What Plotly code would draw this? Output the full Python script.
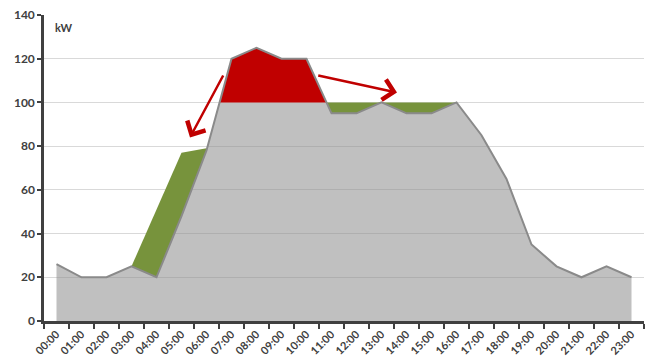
import numpy as np
import plotly.graph_objects as go

# ---------------- data ----------------
hours = ["00:00", "01:00", "02:00", "03:00", "04:00", "05:00", "06:00", "07:00",
         "08:00", "09:00", "10:00", "11:00", "12:00", "13:00", "14:00", "15:00",
         "16:00", "17:00", "18:00", "19:00", "20:00", "21:00", "22:00", "23:00"]
load_kw = [26, 20, 20, 25, 20, 48, 78, 120, 125, 120, 120, 95,
           95, 100, 95, 95, 100, 85, 65, 35, 25, 20, 25, 20]
cap_kw = 100                      # peak-shaving limit
shift_hours = ["03:00", "04:00", "05:00", "06:00"]
shift_top_kw = [25, 51, 77, 79]   # load moved earlier (green, morning)
peak_window = ("06:00", "11:00")  # red: shaved peak
fill_window = ("10:00", "16:00")  # green: valley filling
y_ticks = [0, 20, 40, 60, 80, 100, 120, 140]

# ---------------- helpers ----------------
xi = np.arange(len(hours), dtype=float)
y = np.array(load_kw, dtype=float)


def densify(xs, ys, level):
    px, py = [xs[0]], [ys[0]]
    for i in range(1, len(xs)):
        y0, y1 = ys[i - 1], ys[i]
        if (y0 - level) * (y1 - level) < 0:
            t = (level - y0) / (y1 - y0)
            px.append(xs[i - 1] + t * (xs[i] - xs[i - 1]))
            py.append(level)
        px.append(xs[i])
        py.append(ys[i])
    return np.array(px), np.array(py)


dx, dy = densify(xi, y, cap_kw)
pk0, pk1 = hours.index(peak_window[0]), hours.index(peak_window[1])
fl0, fl1 = hours.index(fill_window[0]), hours.index(fill_window[1])
red_m = (dx >= pk0) & (dx <= pk1) & (dy >= cap_kw)
grn_m = (dx >= fl0) & (dx <= fl1) & (dy <= cap_kw)
sh_idx = [hours.index(h) for h in shift_hours]

GRAY = "rgba(140,140,140,0.55)"
RED = "#c00000"
GREEN = "#77933c"
OUTLINE = "#8a8a8a"
AX = "#404040"

fig = go.Figure()
# base (gray) load, capped
fig.add_trace(go.Scatter(x=dx, y=np.minimum(dy, cap_kw), mode="lines",
                         line=dict(width=0, color=GRAY), fill="tozeroy",
                         fillcolor=GRAY, hoverinfo="skip", showlegend=False))
# red shaved peak
fig.add_trace(go.Scatter(x=dx[red_m], y=np.full(red_m.sum(), cap_kw), mode="lines",
                         line=dict(width=0), hoverinfo="skip", showlegend=False))
fig.add_trace(go.Scatter(x=dx[red_m], y=dy[red_m], mode="lines",
                         line=dict(width=0), fill="tonexty", fillcolor=RED,
                         hoverinfo="skip", showlegend=False))
# green: morning shift
fig.add_trace(go.Scatter(x=xi[sh_idx], y=y[sh_idx], mode="lines",
                         line=dict(width=0), hoverinfo="skip", showlegend=False))
fig.add_trace(go.Scatter(x=xi[sh_idx], y=shift_top_kw, mode="lines",
                         line=dict(width=0), fill="tonexty", fillcolor=GREEN,
                         hoverinfo="skip", showlegend=False))
# green: valley filling
fig.add_trace(go.Scatter(x=dx[grn_m], y=dy[grn_m], mode="lines",
                         line=dict(width=0), hoverinfo="skip", showlegend=False))
fig.add_trace(go.Scatter(x=dx[grn_m], y=np.full(grn_m.sum(), cap_kw), mode="lines",
                         line=dict(width=0), fill="tonexty", fillcolor=GREEN,
                         hoverinfo="skip", showlegend=False))
# outline of original load
fig.add_trace(go.Scatter(x=xi, y=y, mode="lines",
                         line=dict(width=2, color=OUTLINE), hoverinfo="skip",
                         showlegend=False))

font_bold = dict(family="Lato, Liberation Sans, sans-serif", size=12,
                 color=AX, weight="bold")

fig.update_layout(
    width=649, height=362,
    margin=dict(l=44, r=5, t=15, b=41),
    paper_bgcolor="white", plot_bgcolor="white",
    xaxis=dict(range=[-0.5, len(hours) - 0.5], tickmode="array", tickvals=xi,
               ticktext=hours, tickangle=-45, ticks="", showgrid=False,
               zeroline=False, showline=True, linecolor=AX, linewidth=2.5,
               tickfont=dict(font_bold, size=11),
               minor=dict(tick0=-0.5, dtick=1, ticks="outside", ticklen=5,
                          tickwidth=1.5, tickcolor=AX, showgrid=False)),
    yaxis=dict(range=[0, 140], tickmode="array", tickvals=y_ticks,
               ticks="outside", ticklen=4, tickwidth=1.5, tickcolor=AX,
               showline=True, linecolor=AX, linewidth=2.5,
               showgrid=True, gridcolor="#d9d9d9", gridwidth=1,
               zeroline=False, tickfont=font_bold),
    annotations=[
        dict(text="kW", xref="paper", yref="paper", x=0.015, y=0.958,
             xanchor="left", yanchor="middle", showarrow=False,
             font=dict(font_bold, size=11)),
        dict(x=5.34, y=84, ax=6.7, ay=113, xref="x", yref="y",
             axref="x", ayref="y", text="", showarrow=True, arrowhead=4,
             arrowsize=1.6, arrowwidth=2.5, arrowcolor=RED),
        dict(x=13.62, y=104.5, ax=10.41, ay=112.5, xref="x", yref="y",
             axref="x", ayref="y", text="", showarrow=True, arrowhead=4,
             arrowsize=1.6, arrowwidth=2.5, arrowcolor=RED),
    ],
)

fig.write_html("out.html")
